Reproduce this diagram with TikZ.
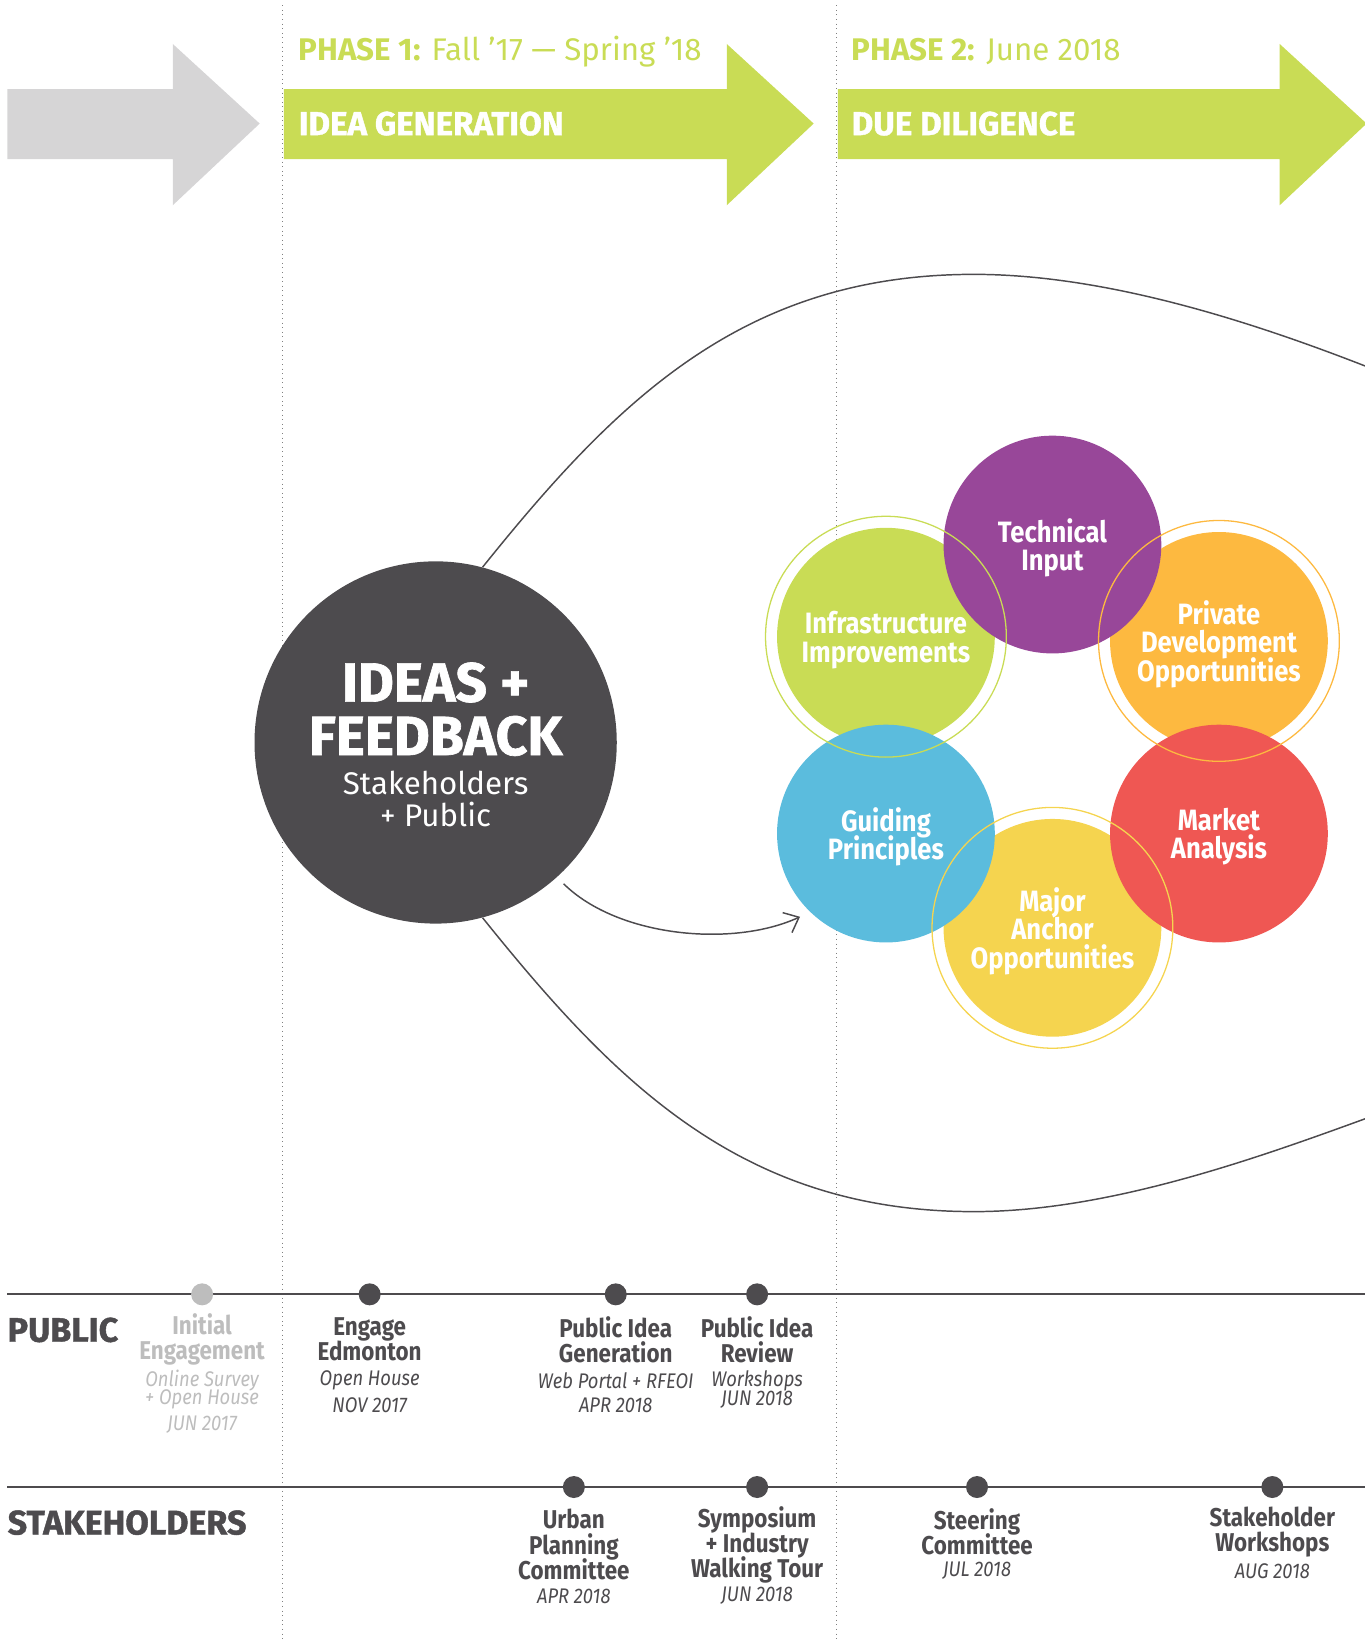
\documentclass[tikz,border=0pt]{standalone}
\usepackage{fontspec}
\setmainfont{Fira Sans}
\newfontfamily\narrowfont{Fira Sans}[FakeStretch=0.87]
\newfontfamily\heavyfont{Fira Sans}[BoldFeatures={FakeBold=1.2}]
\usetikzlibrary{arrows.meta}
\setlength{\lineskiplimit}{-20pt}
\definecolor{leaf}{HTML}{C9DC55}
\definecolor{haze}{HTML}{D6D5D6}
\definecolor{ink}{HTML}{4D4B4E}
\definecolor{faded}{HTML}{BDBDBD}
\definecolor{plum}{HTML}{984799}
\definecolor{amber}{HTML}{FDB940}
\definecolor{coral}{HTML}{EF5753}
\definecolor{butter}{HTML}{F5D44F}
\definecolor{sky}{HTML}{5BBCDD}

\begin{document}
\begin{tikzpicture}[x=0.02cm, y=-0.02cm, every node/.style={inner sep=0pt},
    disc/.style={circle, minimum size=4.16cm, text=white, align=center, text depth=0pt, font=\narrowfont\bfseries\fontsize{16}{15.4}\selectfont},
    ringline/.style={line width=0.7pt},
    curve/.style={draw=ink, line width=0.8pt},
    milestone/.style={circle, fill=ink, minimum size=0.42cm},
    eventtitle/.style={text=ink, align=center, font=\narrowfont\bfseries\fontsize{14}{13.7}\selectfont},
    eventnote/.style={text=ink, align=center, font=\narrowfont\itshape\fontsize{11.5}{10.2}\selectfont},
    rowlabel/.style={text=ink, anchor=west, font=\heavyfont\bfseries\fontsize{18.5}{20}\selectfont},
    phasehead/.style={text=leaf, anchor=base west, font=\fontsize{17}{20}\selectfont},
    stagehead/.style={text=white, anchor=base west, font=\heavyfont\bfseries\fontsize{18}{20}\selectfont}]
            \useasboundingbox (0,0) rectangle (1303,1568);

            \draw[dotted, gray, line width=0.5pt] (270,5) -- (270,1568);
            \draw[dotted, gray, line width=0.5pt] (799,5) -- (799,1568);

            \fill[haze] (7,85) -- (165,85) -- (165,42) -- (248,118) -- (165,196) -- (165,152) -- (7,152) -- cycle;
            \fill[leaf] (271,85) -- (694,85) -- (694,42) -- (777,118) -- (694,196) -- (694,152) -- (271,152) -- cycle;
            \fill[leaf] (800,85) -- (1222,85) -- (1222,42) -- (1305,118) -- (1222,196) -- (1222,152) -- (800,152) -- cycle;
            \node[phasehead] (phaseone) at (285,58) {\bfseries PHASE 1:\mdseries{} Fall ’17 — Spring ’18};
            \node[phasehead] (phasetwo) at (813,58) {\bfseries PHASE 2:\mdseries{} June 2018};
            \node[stagehead] (ideagen) at (285,129) {IDEA GENERATION};
            \node[stagehead] (diligence) at (813,129) {DUE DILIGENCE};

            \node[circle, fill=ink, minimum size=6.92cm] (ideas) at (416,709) {};
            \node[text=white, anchor=base, font=\heavyfont\bfseries\fontsize{30}{30}\selectfont] (ideasword) at (416,670) {IDEAS +};
            \node[text=white, anchor=base, font=\heavyfont\bfseries\fontsize{30}{30}\selectfont] (feedword) at (416,721) {FEEDBACK};
            \node[text=white, anchor=base, font=\fontsize{17}{20}\selectfont] (stakeword) at (416,759) {Stakeholders};
            \node[text=white, anchor=base, font=\fontsize{17}{20}\selectfont] (publicword) at (416,789) {+ Public};

            \coordinate (upperpeak) at (930,262);
            \coordinate (upperend) at (1310,352);
            \coordinate (lowerpeak) at (930,1157);
            \coordinate (lowerend) at (1310,1066);
            \draw[curve] (ideas.75) .. controls (589,382) and (710,262) .. (upperpeak)
                .. controls (1060,262) and (1203,310) .. (upperend);
            \draw[curve] (ideas.-75) .. controls (589,1036) and (710,1157) .. (lowerpeak)
                .. controls (1060,1157) and (1203,1105) .. (lowerend);

            \node[disc, fill=leaf] (infra) at (846,608) {Infrastructure\\Improvements};
            \node[disc, fill=amber] (private) at (1164,612) {Private\\Development\\Opportunities};
            \node[disc, fill=butter] (anchor) at (1005,886) {Major\\Anchor\\Opportunities};
            \node[disc, fill=plum] (technical) at (1005,520) {Technical\\Input};
            \node[disc, fill=sky] (guide) at (846,796) {Guiding\\Principles};
            \node[disc, fill=coral] (market) at (1164,796) {Market\\Analysis};
            \draw[ringline, leaf] (infra.center) circle[radius=2.3cm];
            \draw[ringline, amber] (private.center) circle[radius=2.3cm];
            \draw[ringline, butter] (anchor.center) circle[radius=2.3cm];

            \draw[curve, shorten <=5pt, shorten >=6pt, -{Straight Barb[length=7pt, width=12pt]}] (ideas.-48) .. controls (590,895) and (700,905) .. (guide.-134);

            \draw[ink, line width=1pt] (7,1236) -- (1303,1236);
            \draw[ink, line width=1pt] (7,1420) -- (1303,1420);
            \node[rowlabel] (public) at (7,1270) {PUBLIC};
            \node[rowlabel] (stakeholders) at (7,1454) {STAKEHOLDERS};

            \node[milestone, fill=faded] (initial) at (193,1236) {};
            \node[eventtitle, text=faded] (initialtitle) at (193,1279) {Initial\\Engagement};
            \node[eventnote, text=faded] (initialnote) at (193,1327) {Online Survey\\+ Open House};
            \node[eventnote, text=faded] (initialdate) at (193,1360) {JUN 2017};

            \node[milestone] (engage) at (353,1236) {};
            \node[eventtitle] (engagetitle) at (353,1279) {Engage\\Edmonton};
            \node[eventnote] (engagenote) at (353,1318) {Open House};
            \node[eventnote] (engagedate) at (353,1342) {NOV 2017};

            \node[milestone] (generation) at (588,1236) {};
            \node[eventtitle] (generationtitle) at (588,1279) {Public Idea\\Generation};
            \node[eventnote] (generationnote) at (588,1318) {Web Portal + RFEOI};
            \node[eventnote] (generationdate) at (588,1342) {APR 2018};

            \node[milestone] (review) at (723,1236) {};
            \node[eventtitle] (reviewtitle) at (723,1279) {Public Idea\\Review};
            \node[eventnote] (reviewnote) at (723,1327) {Workshops\\JUN 2018};

            \node[milestone] (urban) at (548,1420) {};
            \node[eventtitle] (urbantitle) at (548,1475) {Urban\\Planning\\Committee};
            \node[eventnote] (urbandate) at (548,1524) {APR 2018};

            \node[milestone] (symposium) at (723,1420) {};
            \node[eventtitle] (symposiumtitle) at (723,1475) {Symposium\\+ Industry\\Walking Tour};
            \node[eventnote] (symposiumdate) at (723,1524) {JUN 2018};

            \node[milestone] (steering) at (933,1420) {};
            \node[eventtitle] (steeringtitle) at (933,1463) {Steering\\Committee};
            \node[eventnote] (steeringdate) at (933,1500) {JUL 2018};

            \node[milestone] (workshops) at (1215,1420) {};
            \node[eventtitle] (workshopstitle) at (1215,1463) {Stakeholder\\Workshops};
            \node[eventnote] (workshopsdate) at (1215,1500) {AUG 2018};
        \end{tikzpicture}
\end{document}
